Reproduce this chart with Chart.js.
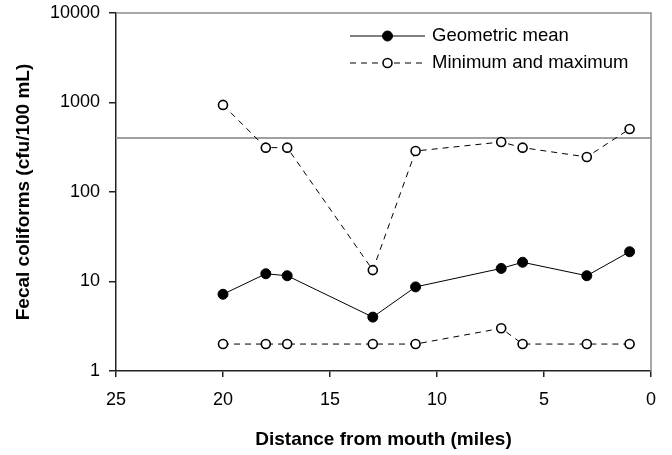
<!DOCTYPE html>
<html>
<head>
<meta charset="utf-8">
<script src="https://cdn.jsdelivr.net/npm/chart.js@4/dist/chart.umd.min.js"></script>
<style>
  html, body { margin: 0; padding: 0; background: #ffffff; }
  #wrap { width: 672px; height: 455px; }
</style>
</head>
<body>
<div id="wrap"><canvas id="chart" width="672" height="455"></canvas></div>
<script>
// Sampling stations, miles upstream from the mouth
const distances = [20, 18, 17, 13, 11, 7, 6, 3, 1];
// Fecal coliform counts (cfu/100 mL)
const geometricMean = [7.2, 12.2, 11.6, 4.0, 8.7, 14.0, 16.4, 11.6, 21.5];
const maximum = [940, 313, 313, 13.4, 287, 362, 313, 246, 506];
const minimum = [2, 2, 2, 2, 2, 3, 2, 2, 2];
// Water-quality criterion drawn as a horizontal reference line
const criterion = 400;
const criterionSpan = [25, 0];
// Axis ticks
const yTicks = [1, 10, 100, 1000, 10000];
const xTicks = [25, 20, 15, 10, 5, 0];

const legendLabels = ['Geometric mean', 'Minimum and maximum'];

const pts = (xs, ys) => xs.map((x, i) => ({ x: x, y: ys[i] }));

const FONT = "'Liberation Sans', Arial, sans-serif";

// Legend drawn as line sample + marker, like classic plotting software
const lineLegend = {
  id: 'lineLegend',
  afterDraw(chart, args, opts) {
    const ctx = chart.ctx;
    opts.items.forEach((item, i) => {
      const ds = chart.data.datasets[item.dataset];
      const y = opts.top + i * opts.rowGap;
      const x0 = opts.left, x1 = opts.left + opts.sampleWidth;
      const cx = (x0 + x1) / 2;
      ctx.save();
      ctx.strokeStyle = ds.borderColor;
      ctx.lineWidth = ds.borderWidth;
      ctx.setLineDash(ds.borderDash || []);
      ctx.beginPath();
      ctx.moveTo(x0, y);
      ctx.lineTo(x1, y);
      ctx.stroke();
      ctx.setLineDash([]);
      ctx.beginPath();
      ctx.arc(cx, y, ds.pointRadius, 0, Math.PI * 2);
      ctx.fillStyle = ds.pointBackgroundColor;
      ctx.fill();
      ctx.lineWidth = ds.pointBorderWidth;
      ctx.strokeStyle = ds.pointBorderColor;
      ctx.stroke();
      ctx.fillStyle = '#000';
      ctx.font = opts.font;
      ctx.textBaseline = 'middle';
      ctx.textAlign = 'left';
      ctx.fillText(item.text, x1 + opts.textGap, y);
      ctx.restore();
    });
  }
};

// Grey frame on the top and right of the plot area
const plotFrame = {
  id: 'plotFrame',
  afterDatasetsDraw(chart, args, opts) {
    const { ctx, chartArea: a } = chart;
    ctx.save();
    ctx.strokeStyle = opts.color;
    ctx.lineWidth = 1.5;
    ctx.beginPath();
    ctx.moveTo(a.left, a.top);
    ctx.lineTo(a.right, a.top);
    ctx.lineTo(a.right, a.bottom);
    ctx.stroke();
    ctx.restore();
  }
};

const meanStyle = {
  borderColor: '#000', borderWidth: 1, borderDash: [],
  pointRadius: 5, pointBackgroundColor: '#000',
  pointBorderColor: '#000', pointBorderWidth: 1
};
const rangeStyle = {
  borderColor: '#000', borderWidth: 1, borderDash: [6, 5],
  pointRadius: 4.5, pointBackgroundColor: '#fff',
  pointBorderColor: '#000', pointBorderWidth: 1.6
};

new Chart(document.getElementById('chart'), {
  type: 'line',
  data: {
    datasets: [
      Object.assign({ label: legendLabels[0], data: pts(distances, geometricMean) }, meanStyle),
      Object.assign({ label: legendLabels[1], data: pts(distances, maximum) }, rangeStyle),
      Object.assign({ label: legendLabels[1], data: pts(distances, minimum) }, rangeStyle),
      {
        label: 'Criterion',
        data: pts(criterionSpan, [criterion, criterion]),
        borderColor: '#a0a0a0', borderWidth: 2, pointRadius: 0
      }
    ]
  },
  options: {
    responsive: false,
    animation: false,
    events: [],
    layout: { padding: { top: 13, right: 21, left: 0, bottom: 0 } },
    elements: { line: { tension: 0 } },
    plugins: {
      legend: { display: false },
      tooltip: { enabled: false },
      lineLegend: {
        left: 350, top: 36, rowGap: 27, sampleWidth: 75, textGap: 7,
        font: '18.5px ' + FONT,
        items: [
          { dataset: 0, text: legendLabels[0] },
          { dataset: 1, text: legendLabels[1] }
        ]
      },
      plotFrame: { color: '#8c8c8c' }
    },
    scales: {
      x: {
        type: 'linear',
        reverse: true,
        min: 0, max: 25,
        afterFit(scale) { scale.height = 84; scale.paddingLeft = 0; scale.paddingRight = 0; },
        afterBuildTicks(scale) { scale.ticks = xTicks.map(v => ({ value: v })); },
        border: { display: true, color: '#222', width: 1.5 },
        grid: { display: true, drawOnChartArea: false, drawTicks: true, tickLength: 6, tickColor: '#222', lineWidth: 1.5 },
        ticks: { color: '#000', font: { family: FONT, size: 18 }, padding: 12, maxRotation: 0 },
        title: {
          display: true, text: 'Distance from mouth (miles)', color: '#000',
          font: { family: FONT, size: 19, weight: 'bold' }, padding: { top: 0, bottom: 4 }
        }
      },
      y: {
        type: 'logarithmic',
        min: 1, max: 10000,
        afterFit(scale) { scale.width = 116; scale.paddingTop = 0; scale.paddingBottom = 0; },
        afterBuildTicks(scale) { scale.ticks = yTicks.map(v => ({ value: v })); },
        border: { display: true, color: '#222', width: 1.5 },
        grid: { display: true, drawOnChartArea: false, drawTicks: true, tickLength: 7, tickColor: '#222', lineWidth: 1.5 },
        ticks: {
          color: '#000', font: { family: FONT, size: 18 }, padding: 9,
          callback: v => String(v)
        },
        title: {
          display: true, text: 'Fecal coliforms (cfu/100 mL)', color: '#000',
          font: { family: FONT, size: 19, weight: 'bold' }, padding: { top: 12, bottom: 0 }
        }
      }
    }
  },
  plugins: [lineLegend, plotFrame]
});
</script>
</body>
</html>
